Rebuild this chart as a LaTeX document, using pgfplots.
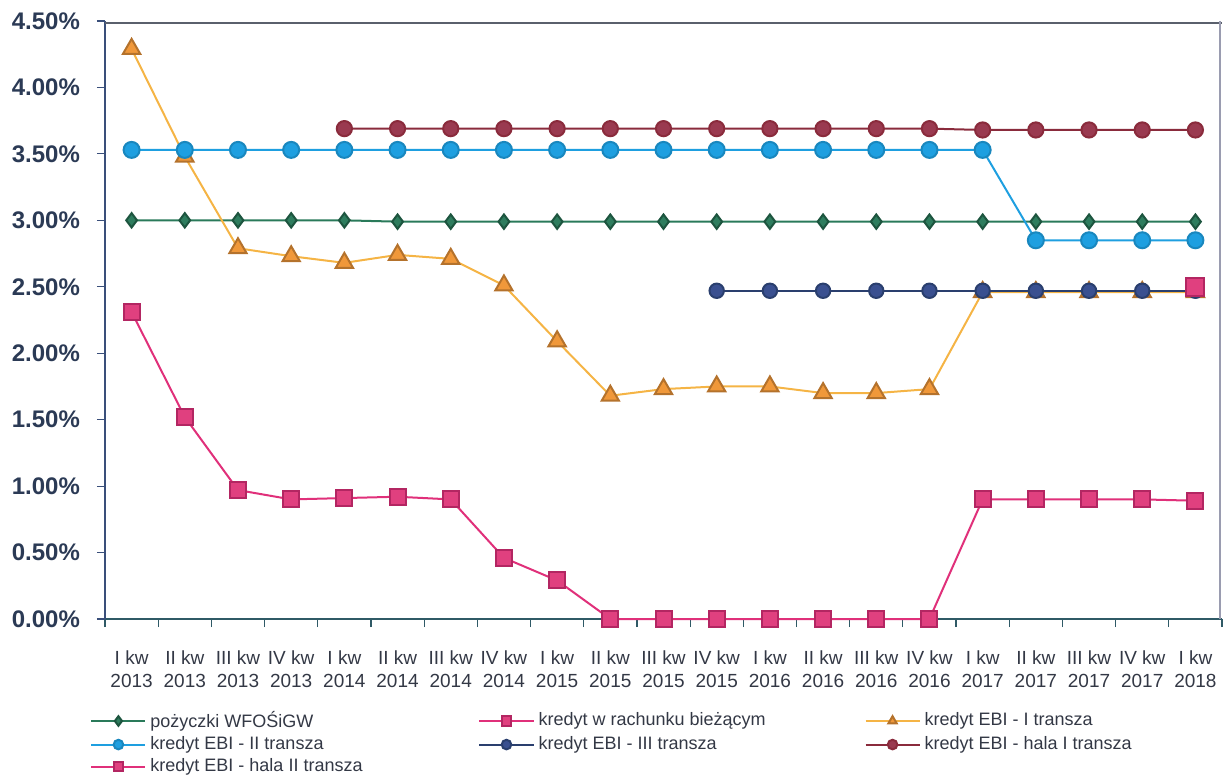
\documentclass[border=0pt]{standalone}
\usepackage{pgfplots}
\pgfplotsset{compat=1.18}
\usepackage{fontspec}
\setmainfont{Liberation Sans}
\definecolor{cgreen}{HTML}{2A7A5A}
\definecolor{cgreenm}{HTML}{2E7D5E}
\definecolor{cpink}{HTML}{E0307A}
\definecolor{cpinkm}{HTML}{E0407F}
\definecolor{corange}{HTML}{F5B445}
\definecolor{corangem}{HTML}{F0983A}
\definecolor{cblue}{HTML}{1E9FE0}
\definecolor{cnavy}{HTML}{2A3F6E}
\definecolor{cnavym}{HTML}{3A5090}
\definecolor{cmaroon}{HTML}{8A2B3C}
\definecolor{cmaroonm}{HTML}{9A3A50}
\definecolor{caxis}{HTML}{3A4F7A}
\definecolor{cxaxis}{HTML}{2F5A66}
\definecolor{ctop}{HTML}{5A606C}
\definecolor{cright}{HTML}{9A9CB0}
\definecolor{ctext}{HTML}{2B3A55}
\definecolor{cxtext}{HTML}{333845}
\begin{document}
\begin{tikzpicture}
\begin{axis}[
  scale only axis,
  width=558.5pt, height=299pt,
  xmin=-0.5, xmax=20.5,
  ymin=0, ymax=4.5,
  clip=false,
  axis lines*=left,
  x axis line style={cxaxis, line width=0.9pt, -},
  y axis line style={caxis, line width=0.9pt, -},
  xtick={0,...,20},
  major x tick style={draw=none},
  minor xtick={-0.5,0.5,...,20.5},
  minor x tick style={cxaxis, line width=0.6pt},
  minor tick length=4pt,
  tick align=outside,
  ytick={0,0.5,...,4.5},
  major y tick style={caxis, line width=0.6pt},
  major tick length=4pt,
  /pgf/number format/assume math mode=true,
  yticklabel={\pgfmathprintnumber[fixed,fixed zerofill,precision=2]{\tick}\%},
  yticklabel style={font=\bfseries\fontsize{12}{12}\selectfont, text=ctext, xshift=-5pt},
  xticklabels={{I kw\\2013},{II kw\\2013},{III kw\\2013},{IV kw\\2013},
    {I kw\\2014},{II kw\\2014},{III kw\\2014},{IV kw\\2014},
    {I kw\\2015},{II kw\\2015},{III kw\\2015},{IV kw\\2015},
    {I kw\\2016},{II kw\\2016},{III kw\\2016},{IV kw\\2016},
    {I kw\\2017},{II kw\\2017},{III kw\\2017},{IV kw\\2017},{I kw\\2018}},
  xticklabel style={font=\fontsize{9.5}{11.5}\selectfont, text=cxtext, align=center, yshift=-8.5pt},
  legend columns=3,
  legend style={at={(axis description cs:0,0)}, anchor=north west, xshift=-7.5pt, yshift=-44pt,
    draw=none, fill=none, font=\fontsize{9}{9.5}\selectfont, text=cxtext,
    inner sep=0pt, row sep=-1pt, /tikz/every even column/.append style={column sep=0pt}},
  legend cell align=left,
  legend image code/.code={\draw[mark repeat=2,mark phase=2,#1,mark size=2.4pt] plot coordinates {(0cm,0cm) (0.475cm,0cm) (0.95cm,0cm)};},
]
\addplot[cgreen, line width=1pt, mark=diamond*, mark size=3.6pt, mark options={fill=cgreenm, draw=cgreen!70!black}]
coordinates {(0,3.00)(1,3.00)(2,3.00)(3,3.00)(4,3.00)(5,2.99)(6,2.99)(7,2.99)(8,2.99)(9,2.99)(10,2.99)(11,2.99)(12,2.99)(13,2.99)(14,2.99)(15,2.99)(16,2.99)(17,2.99)(18,2.99)(19,2.99)(20,2.99)};
\addlegendentry{\makebox[162pt][l]{pożyczki WFOŚiGW}}
\addplot[cpink, line width=1pt, mark=square*, mark size=4pt, mark options={fill=cpinkm, draw=cpink!80!black}]
coordinates {(0,2.31)(1,1.52)(2,0.97)(3,0.90)(4,0.91)(5,0.92)(6,0.90)(7,0.46)(8,0.29)(9,0)(10,0)(11,0)(12,0)(13,0)(14,0)(15,0)(16,0.90)(17,0.90)(18,0.90)(19,0.90)(20,0.89)};
\addlegendentry{\makebox[161pt][l]{kredyt w rachunku bieżącym}}
\addplot[corange, line width=1pt, mark=triangle*, mark size=5pt, mark options={fill=corangem, draw=corangem!75!black}]
coordinates {(0,4.29)(1,3.48)(2,2.79)(3,2.73)(4,2.68)(5,2.74)(6,2.71)(7,2.51)(8,2.09)(9,1.68)(10,1.73)(11,1.75)(12,1.75)(13,1.70)(14,1.70)(15,1.73)(16,2.46)(17,2.46)(18,2.46)(19,2.46)(20,2.46)};
\addlegendentry{kredyt EBI - I transza}
\addplot[cblue, line width=1pt, mark=*, mark size=4pt, mark options={fill=cblue, draw=cblue!85!black}]
coordinates {(0,3.53)(1,3.53)(2,3.53)(3,3.53)(4,3.53)(5,3.53)(6,3.53)(7,3.53)(8,3.53)(9,3.53)(10,3.53)(11,3.53)(12,3.53)(13,3.53)(14,3.53)(15,3.53)(16,3.53)(17,2.85)(18,2.85)(19,2.85)(20,2.85)};
\addlegendentry{\makebox[162pt][l]{kredyt EBI - II transza}}
\addplot[cnavy, line width=1pt, mark=*, mark size=3.6pt, mark options={fill=cnavym, draw=cnavy}]
coordinates {(11,2.47)(12,2.47)(13,2.47)(14,2.47)(15,2.47)(16,2.47)(17,2.47)(18,2.47)(19,2.47)(20,2.47)};
\addlegendentry{\makebox[161pt][l]{kredyt EBI - III transza}}
\addplot[cmaroon, line width=1pt, mark=*, mark size=3.8pt, mark options={fill=cmaroonm, draw=cmaroon}]
coordinates {(4,3.69)(5,3.69)(6,3.69)(7,3.69)(8,3.69)(9,3.69)(10,3.69)(11,3.69)(12,3.69)(13,3.69)(14,3.69)(15,3.69)(16,3.68)(17,3.68)(18,3.68)(19,3.68)(20,3.68)};
\addlegendentry{kredyt EBI - hala I transza}
\addplot[cpink, line width=1pt, mark=square*, mark size=4.5pt, mark options={fill=cpinkm, draw=cpink!80!black}]
coordinates {(20,2.50)};
\addlegendentry{kredyt EBI - hala II transza}
\end{axis}
\draw[ctop, line width=1.2pt] ([yshift=-1pt]current axis.north west) -- ([yshift=-1pt]current axis.north east);
\draw[cright, line width=1.2pt] ([xshift=-1pt]current axis.north east) -- ([xshift=-1pt]current axis.south east);
\path ([xshift=-52.5pt,yshift=-77pt]current axis.south west) rectangle ([xshift=1pt,yshift=10.5pt]current axis.north east);
\end{tikzpicture}
\end{document}
